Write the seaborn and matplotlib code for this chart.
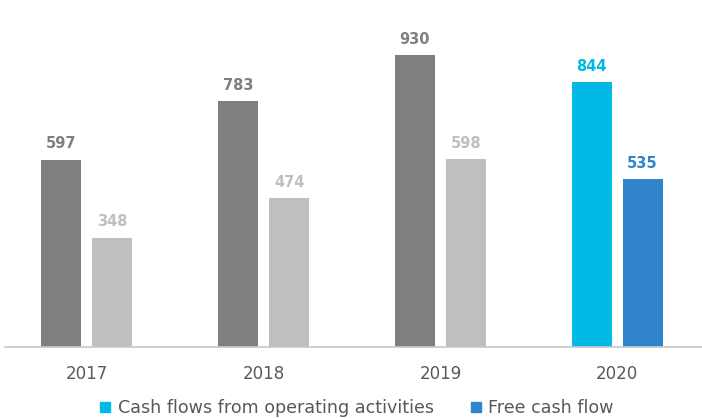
import matplotlib
matplotlib.use('Agg')
import matplotlib.pyplot as plt
import seaborn as sns
import pandas as pd
from matplotlib.lines import Line2D

years = ['2017', '2018', '2019', '2020']
operating_cf = [597, 783, 930, 844]
free_cf = [348, 474, 598, 535]
series_names = ['Cash flows from operating activities', 'Free cash flow']

ops_colors = ['#7f7f7f', '#7f7f7f', '#7f7f7f', '#00b9e4']
fcf_colors = ['#bfbfbf', '#bfbfbf', '#bfbfbf', '#2f84cc']

df = pd.DataFrame({
    'year': years * 2,
    'value': operating_cf + free_cf,
    'series': [series_names[0]] * len(years) + [series_names[1]] * len(years),
})

sns.set_theme(style='white')
plt.rcParams['font.family'] = ['DejaVu Sans']

fig = plt.figure(figsize=(7.02, 4.18), dpi=100)
ax = fig.add_axes([5 / 702, 1 - 347 / 418, 697 / 702, 347 / 418])
sns.barplot(data=df, x='year', y='value', hue='series', order=years,
            hue_order=series_names, width=0.576, gap=0.215, ax=ax,
            legend=False, saturation=1, errorbar=None)

for cont, cols in zip(ax.containers, [ops_colors, fcf_colors]):
    for bar, c in zip(cont, cols):
        bar.set_facecolor(c)
        bar.set_edgecolor('none')
        h = bar.get_height()
        ax.annotate(f'{int(round(h))}', (bar.get_x() + bar.get_width() / 2, h),
                    xytext=(0, 6), textcoords='offset points', ha='center',
                    va='bottom', color=c, fontsize=10.5, fontweight='bold')

ax.set_xlim(-0.463, 3.48)
ax.set_ylim(0, 1105)
for s in ['top', 'left', 'right']:
    ax.spines[s].set_visible(False)
ax.spines['bottom'].set_color('#c8c8c8')
ax.spines['bottom'].set_linewidth(1.2)
ax.set_yticks([])
ax.set_xlabel('')
ax.set_ylabel('')
ax.tick_params(axis='x', length=0, pad=13, labelsize=12, labelcolor='#595959')

handles = [Line2D([0], [0], marker='s', linestyle='', markersize=7, color=ops_colors[-1]),
           Line2D([0], [0], marker='s', linestyle='', markersize=7, color=fcf_colors[-1])]
fig.legend(handles, series_names, loc='center', bbox_to_anchor=(0.507, 0.024), ncol=2,
           frameon=False, handlelength=0.8, handletextpad=0.3, columnspacing=2.0,
           fontsize=12.6, labelcolor='#595959')

fig.savefig('out.png', dpi=100)
